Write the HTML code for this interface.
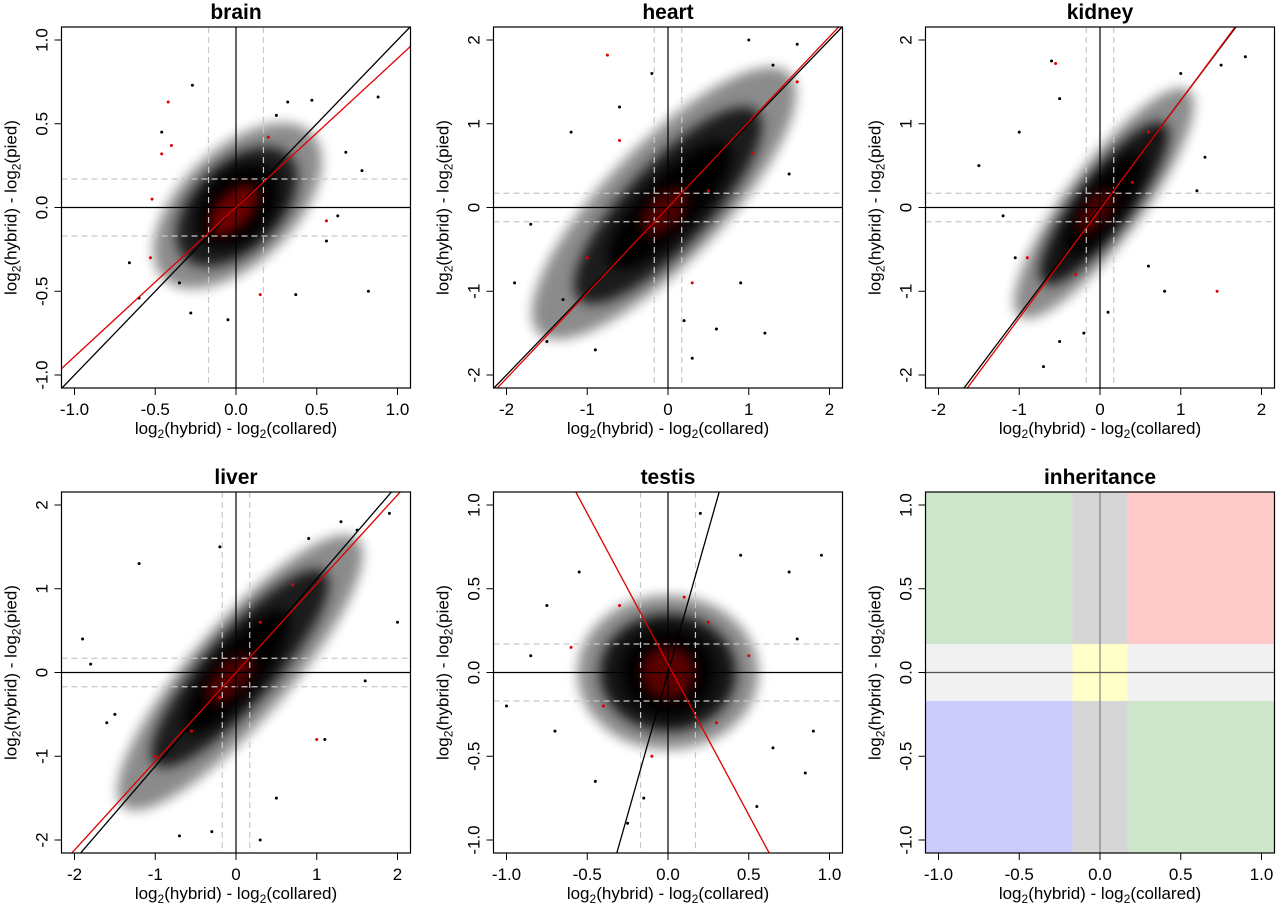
<!DOCTYPE html>
<html><head><meta charset="utf-8"><style>
html,body{margin:0;background:#fff;overflow:hidden;width:1280px;height:905px;}
svg{display:block;font-family:"Liberation Sans",Arial,sans-serif;}
</style></head><body>
<svg id="fig" width="1280" height="905" viewBox="0 0 1280 905">
<defs><filter id="blur" x="-50%" y="-50%" width="200%" height="200%"><feGaussianBlur stdDeviation="6"/></filter></defs>
</svg>
<script>
// ---- data ----
const panelTitles = ["brain","heart","kidney","liver","testis","inheritance"];
const panelRanges = [1.07,2.14,2.14,2.14,1.07,1.07];
const tickSets = [[-1,-0.5,0,0.5,1],[-2,-1,0,1,2],[-2,-1,0,1,2],[-2,-1,0,1,2],[-1,-0.5,0,0.5,1],[-1,-0.5,0,0.5,1]];
const tickLabels1 = ["-1.0","-0.5","0.0","0.5","1.0"];
const tickLabels2 = ["-2","-1","0","1","2"];
const thresh = 0.17;
// regression lines: [slope, intercept]
const blackFits = [[1,0],[1,0],[1.28,0],[1.12,0],[3.4,0]];
const redFits = [[0.89,0],[1.02,0],[1.3,-0.02],[1.06,0],[-1.8,0.05]];
// density clouds: [x1,y1,x2,y2, minor radius(data-y units), opacity]
const clouds = [
 [[-0.45,-0.42,0.47,0.44,0.34,0.45],[-0.32,-0.3,0.33,0.31,0.26,0.8],[-0.2,-0.2,0.22,0.22,0.2,1]],
 [[-1.6,-1.5,1.5,1.6,0.7,0.45],[-1.1,-1.1,1.1,1.15,0.5,0.8],[-0.7,-0.7,0.75,0.75,0.34,1]],
 [[-1.0,-1.3,1.1,1.4,0.45,0.45],[-0.7,-0.9,0.8,1.0,0.33,0.85],[-0.4,-0.55,0.5,0.62,0.24,1]],
 [[-1.4,-1.6,1.5,1.6,0.58,0.45],[-1.0,-1.1,1.1,1.2,0.42,0.8],[-0.6,-0.7,0.62,0.72,0.3,1]],
 [[-0.56,0,0.56,0,0.46,0.45],[-0.42,0,0.42,0,0.35,0.85],[-0.28,0,0.28,0,0.26,1]]
];
const redClouds = [
 [-0.15,-0.15,0.12,0.12,0.1,0.5],
 [-0.3,-0.3,0.2,0.2,0.2,0.35],
 [-0.25,-0.3,0.15,0.2,0.15,0.35],
 [-0.35,-0.35,0.2,0.2,0.18,0.35],
 [-0.15,0,0.15,0,0.16,0.4]
];
const blackX = [
 [0.88,-0.27,0.82,0.37,-0.66,-0.6,0.56,0.68,0.78,-0.05,-0.28,0.32,0.47,-0.46,0.63,-0.35,0.25],
 [-1.7,-1.2,1.2,0.3,-0.9,1.0,1.6,-0.2,0.6,-1.5,-0.6,1.5,-1.9,0.2,-1.3,1.3,0.9],
 [-1.5,1.8,1.5,-0.6,0.8,-0.5,-0.2,-1.05,-1.2,1.2,0.6,-0.5,1.0,-1.0,0.1,-0.7,1.3],
 [-1.9,-1.5,-1.2,0.3,-0.7,1.9,1.5,1.1,-1.6,0.9,0.5,-0.2,2.0,-1.8,1.6,-0.3,1.3],
 [-0.75,0.95,-1.0,0.85,0.9,-0.7,0.2,-0.25,0.55,-0.55,0.75,-0.45,0.45,0.65,-0.85,0.8,-0.15]
];
const blackY = [
 [0.66,0.73,-0.5,-0.52,-0.33,-0.54,-0.2,0.33,0.22,-0.67,-0.63,0.63,0.64,0.45,-0.05,-0.45,0.55],
 [-0.2,0.9,-1.5,-1.8,-1.7,2.0,1.95,1.6,-1.45,-1.6,1.2,0.4,-0.9,-1.35,-1.1,1.7,-0.9],
 [0.5,1.8,1.7,1.75,-1.0,-1.6,-1.5,-0.6,-0.1,0.2,-0.7,1.3,1.6,0.9,-1.25,-1.9,0.6],
 [0.4,-0.5,1.3,-2.0,-1.95,1.9,1.7,-0.8,-0.6,1.6,-1.5,1.5,0.6,0.1,-0.1,-1.9,1.8],
 [0.4,0.7,-0.2,-0.6,-0.35,-0.35,0.95,-0.9,-0.8,0.6,0.6,-0.65,0.7,-0.45,0.1,0.2,-0.75]
];
const redX = [
 [-0.42,-0.52,0.56,-0.4,0.15,-0.53,-0.46,0.2],
 [-0.75,1.05,-0.6,0.3,1.6,-1.0,0.5],
 [1.45,-0.55,-0.9,0.4,-0.3,0.6],
 [-1.0,0.7,-0.55,1.0,0.3,-0.2],
 [-0.3,0.25,-0.4,0.3,0.5,-0.1,0.1,-0.6]
];
const redY = [
 [0.63,0.05,-0.08,0.37,-0.52,-0.3,0.32,0.42],
 [1.82,0.65,0.8,-0.9,1.5,-0.6,0.2],
 [-1.0,1.72,-0.6,0.3,-0.8,0.9],
 [-1.0,1.05,-0.7,-0.8,0.6,-0.3],
 [0.4,0.3,-0.2,-0.3,0.1,-0.5,0.45,0.15]
];
// inheritance regions
const inhRegions = [
 [-1.2,thresh,-thresh,1.2,"#cde5cb"],[thresh,thresh,1.2,1.2,"#ffcaca"],
 [-1.2,-1.2,-thresh,-thresh,"#cbcbfb"],[thresh,-1.2,1.2,-thresh,"#cde5cb"],
 [-thresh,-1.2,thresh,1.2,"#d6d6d6"],[-1.2,-thresh,1.2,thresh,"#f1f1f1"],
 [-thresh,-thresh,thresh,thresh,"#ffffc8"]
];
// ---- drawing ----
const NS="http://www.w3.org/2000/svg";
const svg=document.getElementById('fig');
function mk(tag,attrs,parent){const e=document.createElementNS(NS,tag);for(const k in attrs)e.setAttribute(k,attrs[k]);(parent||svg).appendChild(e);return e;}
const lefts=[61.5,493.5,925.5], tops=[27,492], W=349, H=361;
panelTitles.forEach((title,p)=>{
  const L=lefts[p%3], T=tops[Math.floor(p/3)];
  const R=panelRanges[p];
  const tickUnit = R>2?2:1;
  const kx=161.5/tickUnit, ky=167.5/tickUnit;
  const cx=L+W/2, cy=T+H/2;
  const sx=v=>cx+v*kx, sy=v=>cy-v*ky;
  const g=mk('g',{});
  
  
  mk('clipPath',{id:'clip'+p},g).appendChild((()=>{const r=document.createElementNS(NS,'rect');r.setAttribute('x',L);r.setAttribute('y',T);r.setAttribute('width',W);r.setAttribute('height',H);return r;})());
  const plot=mk('g',{'clip-path':'url(#clip'+p+')'},g);
  
  
  if(p<5){
    const ellipse=(c,fill,nm)=>{
      const [x1,y1,x2,y2,r,op]=c;
      const px1=sx(x1),py1=sy(y1),px2=sx(x2),py2=sy(y2);
      const mx=(px1+px2)/2,my=(py1+py2)/2;
      const len=Math.max(Math.hypot(px2-px1,py2-py1)/2, r*ky);
      const ang=(px2===px1&&py2===py1)?0:Math.atan2(py2-py1,px2-px1)*180/Math.PI;
      const e=mk('ellipse',{cx:mx,cy:my,rx:len,ry:r*ky,fill:fill,opacity:op,filter:'url(#blur)',transform:`rotate(${ang} ${mx} ${my})`},plot);
      
      
    };
    clouds[p].forEach(c=>ellipse(c,'#000','point-density-cloud'));
    ellipse(redClouds[p],'#e00000','red-point-cloud');
    blackX[p].forEach((x,i)=>{
      const d=mk('circle',{cx:sx(x),cy:sy(blackY[p][i]),r:1.5,fill:'#000'},plot);
      
      
    });
    redX[p].forEach((x,i)=>{
      const d=mk('circle',{cx:sx(x),cy:sy(redY[p][i]),r:1.5,fill:'#e00000'},plot);
      
      
    });
    [thresh,-thresh].forEach(t=>{
      const a=mk('line',{x1:sx(t),x2:sx(t),y1:T,y2:T+H,stroke:'#c8c8c8','stroke-dasharray':'6,4','stroke-width':1.2},plot);
      
      
      const b=mk('line',{y1:sy(t),y2:sy(t),x1:L,x2:L+W,stroke:'#c8c8c8','stroke-dasharray':'6,4','stroke-width':1.2},plot);
      
      
    });
    const z1=mk('line',{x1:sx(0),x2:sx(0),y1:T,y2:T+H,stroke:'#000','stroke-width':1.2},plot);
    
    
    const z2=mk('line',{y1:sy(0),y2:sy(0),x1:L,x2:L+W,stroke:'#000','stroke-width':1.2},plot);
    
    
    const fitLine=(f,col,nm)=>{
      const xa=-R*1.3, xb=R*1.3;
      const l=mk('line',{x1:sx(xa),y1:sy(f[0]*xa+f[1]),x2:sx(xb),y2:sy(f[0]*xb+f[1]),stroke:col,'stroke-width':1.3},plot);
      
      
    };
    fitLine(blackFits[p],'#000','identity-fit-line');
    fitLine(redFits[p],'#e00000','regression-line');
  } else {
    inhRegions.forEach(r=>{
      const e=mk('rect',{x:sx(r[0]),y:sy(r[3]),width:sx(r[2])-sx(r[0]),height:sy(r[1])-sy(r[3]),fill:r[4]},plot);
      
      
    });
    const z1=mk('line',{x1:sx(0),x2:sx(0),y1:T,y2:T+H,stroke:'#888','stroke-width':1.3},plot);
    
    
    const z2=mk('line',{y1:sy(0),y2:sy(0),x1:L,x2:L+W,stroke:'#555','stroke-width':1.2},plot);
    
    
  }
  const box=mk('rect',{x:L,y:T,width:W,height:H,fill:'none',stroke:'#000','stroke-width':1.2},g);
  
  
  const labels = tickUnit===2?tickLabels2:tickLabels1;
  tickSets[p].forEach((t,i)=>{
    mk('line',{x1:sx(t),x2:sx(t),y1:T+H,y2:T+H+7,stroke:'#000'},g);
    const xt=mk('text',{x:sx(t),y:T+H+27,'font-size':17,'text-anchor':'middle',fill:'#000'},g);
    xt.textContent=labels[i];
    
    
    mk('line',{x1:L,x2:L-7,y1:sy(t),y2:sy(t),stroke:'#000'},g);
    const yx=L-14, yy=sy(t);
    const yt=mk('text',{x:yx,y:yy,'font-size':17,'text-anchor':'middle',fill:'#000',transform:`rotate(-90 ${yx} ${yy})`},g);
    yt.textContent=labels[i];
    
    
  });
  const tt=mk('text',{x:cx,y:T-8,'font-size':21,'font-weight':'bold','text-anchor':'middle'},g);
  tt.textContent=title;
  
  
  const xa=mk('text',{x:cx,y:T+H+46,'font-size':17,'text-anchor':'middle'},g);
  xa.innerHTML='log<tspan font-size="12" dy="4">2</tspan><tspan dy="-4">(hybrid) - log</tspan><tspan font-size="12" dy="4">2</tspan><tspan dy="-4">(collared)</tspan>';
  
  
  const yx=L-45, yy=cy;
  const ya=mk('text',{x:yx,y:yy,'font-size':17,'text-anchor':'middle',transform:`rotate(-90 ${yx} ${yy})`},g);
  ya.innerHTML='log<tspan font-size="12" dy="4">2</tspan><tspan dy="-4">(hybrid) - log</tspan><tspan font-size="12" dy="4">2</tspan><tspan dy="-4">(pied)</tspan>';
  
  
});
</script>
</body></html>
